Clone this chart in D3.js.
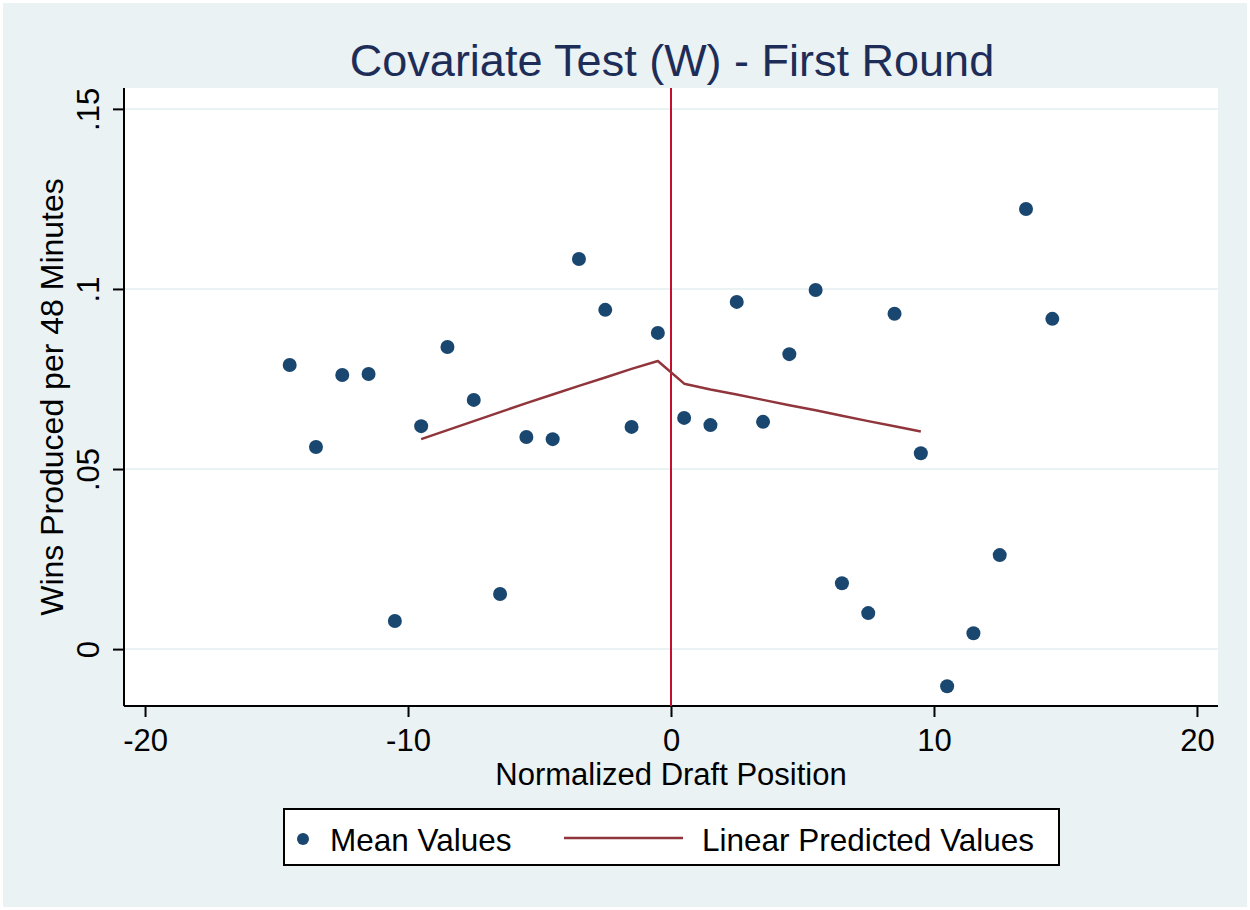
<!DOCTYPE html>
<html>
<head>
<meta charset="utf-8">
<script src="https://cdn.jsdelivr.net/npm/d3@7"></script>
<style>
  html, body { margin: 0; padding: 0; background: #ffffff; }
  svg { display: block; }
  text { font-family: "Liberation Sans", Arial, sans-serif; }
</style>
</head>
<body>
<script>
// ---- data ----
const xPositions = [-14.5,-13.5,-12.5,-11.5,-10.5,-9.5,-8.5,-7.5,-6.5,-5.5,-4.5,-3.5,-2.5,-1.5,-0.5,
                    0.5,1.5,2.5,3.5,4.5,5.5,6.5,7.5,8.5,9.5,10.5,11.5,12.5,13.5,14.5];
const meanValues = [0.0789,0.0561,0.0761,0.0764,0.0078,0.0619,0.0839,0.0692,0.0153,0.0589,0.0583,0.1083,0.0942,0.0617,0.0878,
                    0.0642,0.0622,0.0964,0.0631,0.0819,0.0997,0.0183,0.0100,0.0931,0.0544,-0.0103,0.0044,0.0261,0.1222,0.0917];
const predX = [-9.5,-8.5,-7.5,-6.5,-5.5,-4.5,-3.5,-2.5,-1.5,-0.5,
               0.5,1.5,2.5,3.5,4.5,5.5,6.5,7.5,8.5,9.5];
const predY = [0.0583,0.0608,0.0633,0.0658,0.0683,0.0707,0.0731,0.0754,0.0778,0.0800,
               0.0737,0.0721,0.0707,0.0692,0.0677,0.0663,0.0648,0.0633,0.0619,0.0604];
const xTicks = [-20,-10,0,10,20];
const xTickLabels = ["-20","-10","0","10","20"];
const yTicks = [0,0.05,0.1,0.15];
const yTickLabels = ["0",".05",".1",".15"];
const cutoff = [0];
const titleText = "Covariate Test (W) - First Round";
const xTitle = "Normalized Draft Position";
const yTitle = "Wins Produced per 48 Minutes";
const legendLabels = ["Mean Values","Linear Predicted Values"];

// ---- layout ----
const W = 1250, H = 910;
const plot = {left: 124, right: 1218, top: 88, bottom: 706};
const bg = "#EAF2F3", navy = "#1A476F", maroon = "#90353B", vline = "#C4102E", titleCol = "#1E2D58";

const svg = d3.select("body").append("svg").attr("width", W).attr("height", H);
svg.append("rect").attr("x",0).attr("y",0).attr("width",W).attr("height",H).attr("fill","#ffffff");
svg.append("rect").attr("x",3).attr("y",3).attr("width",W-6).attr("height",H-6).attr("fill",bg);
svg.append("rect").attr("x",plot.left).attr("y",plot.top).attr("width",plot.right-plot.left)
   .attr("height",plot.bottom-plot.top).attr("fill","#ffffff");

const x = d3.scaleLinear().domain([-20.8, 20.8]).range([plot.left, plot.right]);
const y = d3.scaleLinear().domain([-0.0158, 0.1558]).range([plot.bottom, plot.top]);

// gridlines
svg.append("g").selectAll("line").data(yTicks).join("line")
  .attr("x1", plot.left).attr("x2", plot.right)
  .attr("y1", d => y(d)).attr("y2", d => y(d))
  .attr("stroke", bg).attr("stroke-width", 2);

// axes
const xAxis = d3.axisBottom(x).tickValues(xTicks).tickFormat((d,i) => xTickLabels[i]).tickSize(11).tickPadding(6);
const gx = svg.append("g").attr("transform", `translate(0,${plot.bottom})`).call(xAxis);
gx.select(".domain").attr("stroke","#000").attr("stroke-width",2).attr("d", `M${plot.left},0H${plot.right}`);
gx.selectAll(".tick line").attr("stroke","#000").attr("stroke-width",2);
gx.selectAll(".tick text").attr("font-size", 31).attr("fill","#000")
  .attr("font-family","Liberation Sans, Arial, sans-serif").attr("dy","0.9em");

const yAxis = d3.axisLeft(y).tickValues(yTicks).tickFormat((d,i) => yTickLabels[i]).tickSize(11).tickPadding(0);
const gy = svg.append("g").attr("transform", `translate(${plot.left},0)`).call(yAxis);
gy.select(".domain").attr("stroke","#000").attr("stroke-width",2).attr("d", `M0,${plot.top}V${plot.bottom}`);
gy.selectAll(".tick line").attr("stroke","#000").attr("stroke-width",2);
gy.selectAll(".tick text").attr("font-size", 31).attr("fill","#000")
  .attr("font-family","Liberation Sans, Arial, sans-serif")
  .attr("x", 0).attr("dy", 0).attr("text-anchor","middle")
  .attr("transform", "translate(-25,0) rotate(-90)");

// cutoff line
svg.append("g").selectAll("line").data(cutoff).join("line")
  .attr("x1", d => x(d)).attr("x2", d => x(d))
  .attr("y1", plot.top).attr("y2", plot.bottom)
  .attr("stroke", vline).attr("stroke-width", 2);

// predicted line
const line = d3.line().x(d => x(d[0])).y(d => y(d[1]));
svg.append("path").datum(predX.map((v,i) => [v, predY[i]]))
  .attr("d", line).attr("fill","none").attr("stroke", maroon).attr("stroke-width", 2.5)
  .attr("stroke-linejoin","round");

// points
svg.append("g").selectAll("circle").data(xPositions.map((v,i) => [v, meanValues[i]])).join("circle")
  .attr("cx", d => x(d[0])).attr("cy", d => y(d[1])).attr("r", 7).attr("fill", navy);

// titles
svg.append("text").attr("x", 672).attr("y", 76).attr("text-anchor","middle")
  .attr("font-size", 45).attr("fill", titleCol).text(titleText);
svg.append("text").attr("x", (plot.left+plot.right)/2).attr("y", 785).attr("text-anchor","middle")
  .attr("font-size", 31).attr("fill","#000").text(xTitle);
svg.append("text").attr("transform", `translate(63,${(plot.top+plot.bottom)/2}) rotate(-90)`)
  .attr("text-anchor","middle").attr("font-size", 32).attr("fill","#000").text(yTitle);

// legend
const lg = svg.append("g");
lg.append("rect").attr("x", 284).attr("y", 809).attr("width", 775).attr("height", 56)
  .attr("fill","#fff").attr("stroke","#000").attr("stroke-width",2);
lg.append("circle").attr("cx", 303).attr("cy", 839).attr("r", 6).attr("fill", navy);
lg.append("text").attr("x", 330).attr("y", 851).attr("font-size", 31.5).attr("fill","#000").text(legendLabels[0]);
lg.append("line").attr("x1", 564).attr("x2", 683).attr("y1", 838).attr("y2", 838)
  .attr("stroke", maroon).attr("stroke-width", 2.5);
lg.append("text").attr("x", 702).attr("y", 851).attr("font-size", 31.5).attr("fill","#000").text(legendLabels[1]);
</script>
</body>
</html>
